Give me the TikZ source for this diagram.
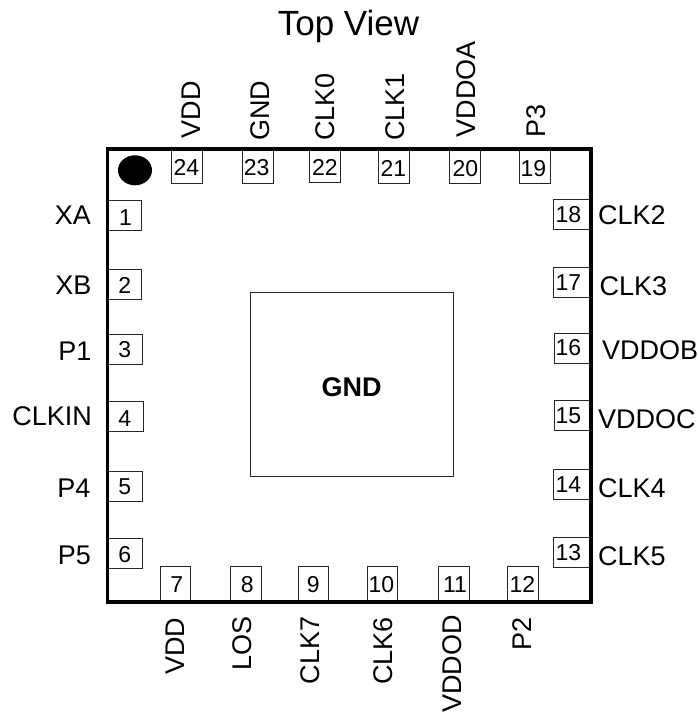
\documentclass[tikz,border=0pt]{standalone}
\usepackage{fontspec}
\setmainfont{Liberation Sans}
\tikzset{
  x=1pt,y=1pt,
  pinbox/.style={draw=black!85,line width=0.9pt,fill=white,inner sep=0pt},
  pinnum/.style={inner sep=0pt,font=\fontsize{23}{26}\selectfont,text height=16.5pt,text depth=0pt},
  siglabel/.style={inner sep=0pt,font=\fontsize{27}{30}\selectfont,text height=19.3pt,text depth=0pt},
  leftlabel/.style={siglabel,anchor=east},
  rightlabel/.style={siglabel,anchor=west},
  vertlabel/.style={siglabel,rotate=90,anchor=west},
}
% \pinat{name}{x0}{y0}{x1}{y1}{text}{text x}{text y}, pixel coordinates measured from the top
\newcommand{\pinat}[8]{%
  \pgfmathsetmacro{\pw}{#4-#2}\pgfmathsetmacro{\ph}{#5-#3}%
  \pgfmathsetmacro{\pcx}{(#2+#4)/2}\pgfmathsetmacro{\pcy}{713-(#3+#5)/2}%
  \node[pinbox,minimum width=\pw pt,minimum height=\ph pt] (#1) at (\pcx,\pcy) {};
  \node[pinnum] (#1t) at (#7,713-#8) {#6};}
\begin{document}
\begin{tikzpicture}
\useasboundingbox (0,0) rectangle (698,713);
\fill[white] (0,0) rectangle (698,713);
% left pins
\pinat{p1}{107}{200.7}{141.7}{230.3}{1}{125.6}{217}
\pinat{p2}{107}{269}{141.7}{299}{2}{124.7}{285}
\pinat{p3}{107}{334.3}{142.7}{364.7}{3}{124.7}{349}
\pinat{p4}{107}{401.7}{143}{431.7}{4}{124.7}{418}
\pinat{p5}{107}{471}{142.3}{501}{5}{124.7}{486.3}
\pinat{p6}{107}{538.7}{142}{568.7}{6}{124.7}{554}
% bottom pins
\pinat{p7}{160}{566.7}{190.7}{602}{7}{176.7}{584}
\pinat{p8}{230.3}{566.7}{261.3}{602}{8}{247.3}{584}
\pinat{p9}{298}{566.7}{328.7}{602}{9}{313.3}{584}
\pinat{p10}{367}{566.7}{397.7}{602}{10}{381.3}{584}
\pinat{p11}{438.3}{566.7}{469}{602}{11}{455}{584}
\pinat{p12}{507.7}{566.7}{538.3}{602}{12}{522.3}{584}
% right pins
\pinat{p13}{553.3}{537.7}{590}{567.7}{13}{568.3}{552}
\pinat{p14}{553.3}{469.7}{590}{499.7}{14}{568.3}{484}
\pinat{p15}{554.3}{400.7}{590}{430.7}{15}{568.3}{415}
\pinat{p16}{554.3}{333.3}{590}{363.3}{16}{568.3}{347}
\pinat{p17}{553.3}{267.7}{590}{297.7}{17}{568.3}{282.7}
\pinat{p18}{553.3}{199.7}{590}{229.3}{18}{568.3}{214.7}
% top pins
\pinat{p19}{519.3}{149}{550}{183}{19}{533.3}{168}
\pinat{p20}{449.7}{149}{480.7}{183}{20}{465.3}{168}
\pinat{p21}{378.3}{149}{409.3}{183}{21}{393.5}{168}
\pinat{p22}{309.3}{149}{340.3}{182.3}{22}{325}{167.3}
\pinat{p23}{242}{149}{273}{183}{23}{256.7}{167.3}
\pinat{p24}{171.7}{149}{202.3}{183}{24}{186.3}{167.3}
% package outline
\draw[line width=3.6pt,line join=miter] (107.3,713-149.3) rectangle (590.7,713-602.3);
% pad
\node[draw=black!85,line width=0.9pt,minimum width=202.3pt,minimum height=184.4pt,inner sep=0pt] (pad) at (351.85,713-384.5) {};
\node[inner sep=0pt,font=\fontsize{27}{30}\selectfont\bfseries,text height=19.3pt,text depth=0pt] (padlabel) at (351.5,713-387) {GND};
% pin-one marker
\fill (135,713-170.3) ellipse [x radius=17,y radius=15];
% title
\node[inner sep=0pt,font=\fontsize{35}{38}\selectfont,text height=25pt,text depth=0pt] (title) at (348.5,713-23) {Top View};
% left labels
\node[leftlabel] (lxa) at (91,713-214.5) {XA};
\node[leftlabel] (lxb) at (91.5,713-285) {XB};
\node[leftlabel] (lp1) at (91.5,713-351.3) {P1};
\node[leftlabel] (lclkin) at (92,713-415.7) {CLKIN};
\node[leftlabel] (lp4) at (90.5,713-487.7) {P4};
\node[leftlabel] (lp5) at (91,713-554.4) {P5};
% right labels
\node[rightlabel] (lclk2) at (598,713-214.7) {CLK2};
\node[rightlabel] (lclk3) at (599.5,713-285.7) {CLK3};
\node[rightlabel] (lvddob) at (602,713-349.7) {VDDOB};
\node[rightlabel] (lvddoc) at (598,713-418.7) {VDDOC};
\node[rightlabel] (lclk4) at (598,713-487.8) {CLK4};
\node[rightlabel] (lclk5) at (598,713-556.3) {CLK5};
% top labels
\node[vertlabel] (lt24) at (190.8,713-138.3) {VDD};
\node[vertlabel] (lt23) at (260.3,713-141) {GND};
\node[vertlabel] (lt22) at (325.3,713-141) {CLK0};
\node[vertlabel] (lt21) at (395.3,713-141) {CLK1};
\node[vertlabel] (lt20) at (466,713-137.5) {VDDOA};
\node[vertlabel] (lt19) at (536.3,713-138) {P3};
% bottom labels
\node[vertlabel] (lb7) at (175,713-675) {VDD};
\node[vertlabel] (lb8) at (241.7,713-671) {LOS};
\node[vertlabel] (lb9) at (310.3,713-684.5) {CLK7};
\node[vertlabel] (lb10) at (382.7,713-685) {CLK6};
\node[vertlabel] (lb11) at (452.3,713-713) {VDDOD};
\node[vertlabel] (lb12) at (522.3,713-651) {P2};
\end{tikzpicture}
\end{document}
